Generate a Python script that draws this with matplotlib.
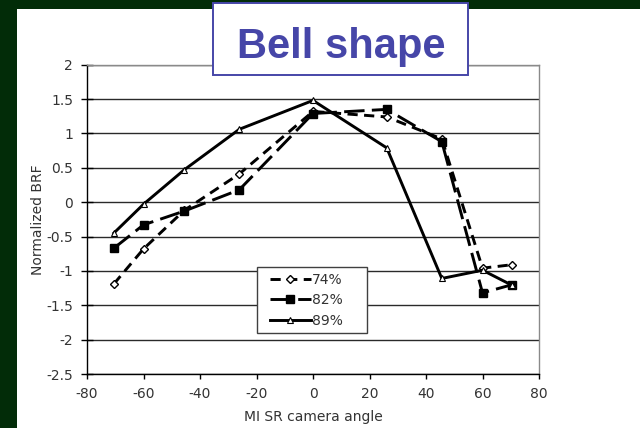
import matplotlib
matplotlib.use("Agg")
import matplotlib.pyplot as plt
from matplotlib.patches import Rectangle
from matplotlib.lines import Line2D
from matplotlib.legend_handler import HandlerLine2D

plt.rcParams['font.family'] = ['DejaVu Sans']
plt.rcParams['axes.unicode_minus'] = False

# MISR camera view angles (degrees)
angles = [-70.5, -60.0, -45.6, -26.1, 0.0, 26.1, 45.6, 60.0, 70.5]

# Normalized BRF for each canopy cover fraction
brf_74 = [-1.19, -0.68, -0.12, 0.41, 1.32, 1.24, 0.92, -0.96, -0.91]
brf_82 = [-0.67, -0.33, -0.13, 0.18, 1.29, 1.35, 0.88, -1.32, -1.20]
brf_89 = [-0.45, -0.03, 0.47, 1.06, 1.48, 0.79, -1.11, -0.99, -1.21]

series_labels = ['74%', '82%', '89%']
x_ticks = [-80, -60, -40, -20, 0, 20, 40, 60, 80]
y_ticks = [2, 1.5, 1, 0.5, 0, -0.5, -1, -1.5, -2, -2.5]

W, H = 640, 428
fig = plt.figure(figsize=(W / 100, H / 100), dpi=100, facecolor='white')

# dark slide frame along the left and top edges
green = '#022c08'
fig.add_artist(Rectangle((0, 0), 17 / W, 1, transform=fig.transFigure,
                         facecolor=green, edgecolor='none', zorder=0))
fig.add_artist(Rectangle((0, 1 - 8.6 / H), 1, 8.6 / H, transform=fig.transFigure,
                         facecolor=green, edgecolor='none', zorder=0))

# title box
fig.add_artist(Rectangle((213 / W, 1 - 75 / H), 255 / W, 72 / H,
                         transform=fig.transFigure, facecolor='white',
                         edgecolor='#4646a8', linewidth=1.4, zorder=1))
fig.text(341.5 / W, 1 - 58.4 / H, 'Bell shape', ha='center', va='baseline',
         fontsize=30, fontweight='bold', color='#4646a8', zorder=2,
         family=['Liberation Sans', 'DejaVu Sans'])

ax = fig.add_axes([87 / W, 1 - 374 / H, 452 / W, 309.3 / H])
ax.set_xlim(-80, 80)
ax.set_ylim(-2.5, 2)

lw = 2.1
ax.plot(angles, brf_74, color='black', lw=lw, dashes=(3.5, 2.2),
        marker='D', markersize=4.2, markerfacecolor='white',
        markeredgecolor='black', markeredgewidth=1.0, label=series_labels[0], zorder=4)
ax.plot(angles, brf_82, color='black', lw=lw, dashes=(7, 2.5),
        marker='s', markersize=6, markerfacecolor='black',
        markeredgecolor='black', label=series_labels[1], zorder=4)
ax.plot(angles, brf_89, color='black', lw=lw, linestyle='-',
        marker='^', markersize=5, markerfacecolor='white',
        markeredgecolor='black', markeredgewidth=0.8, label=series_labels[2], zorder=4)

ax.set_xticks(x_ticks)
ax.set_yticks(y_ticks)
ax.set_yticklabels([f'{v:g}' for v in y_ticks])
ax.yaxis.grid(True, color='#2a2a2a', linewidth=1.0)
ax.set_axisbelow(True)

fs = 10
tick_color = '#333333'
ax.tick_params(axis='x', direction='out', length=3.5, width=1, color='black',
               labelsize=fs, labelcolor=tick_color, pad=6)
ax.tick_params(axis='y', direction='inout', length=8, width=1, color='black',
               labelsize=fs, labelcolor=tick_color, pad=6)

for side in ('left', 'bottom'):
    ax.spines[side].set_color('black')
    ax.spines[side].set_linewidth(1.0)
for side in ('top', 'right'):
    ax.spines[side].set_color('#8a8a8a')
    ax.spines[side].set_linewidth(1.0)

ax.set_xlabel('MI SR camera angle', fontsize=fs, color=tick_color, labelpad=6)
ax.set_ylabel('Normalized BRF', fontsize=fs, color=tick_color, labelpad=1)

leg = ax.legend(loc='upper left',
                bbox_to_anchor=(257 / W, 1 - 333 / H, 110 / W, 66 / H),
                bbox_transform=fig.transFigure, mode='expand',
                frameon=True, fancybox=False, framealpha=1,
                edgecolor='#404040', fontsize=fs,
                handlelength=3.5, handletextpad=0.05, borderpad=0.4,
                labelspacing=0.48, borderaxespad=0,
                handler_map={Line2D: HandlerLine2D(xpad=0.5)})
leg.get_frame().set_linewidth(1.0)
for t in leg.get_texts():
    t.set_color(tick_color)

fig.savefig('out.png', dpi=100, facecolor='white')
